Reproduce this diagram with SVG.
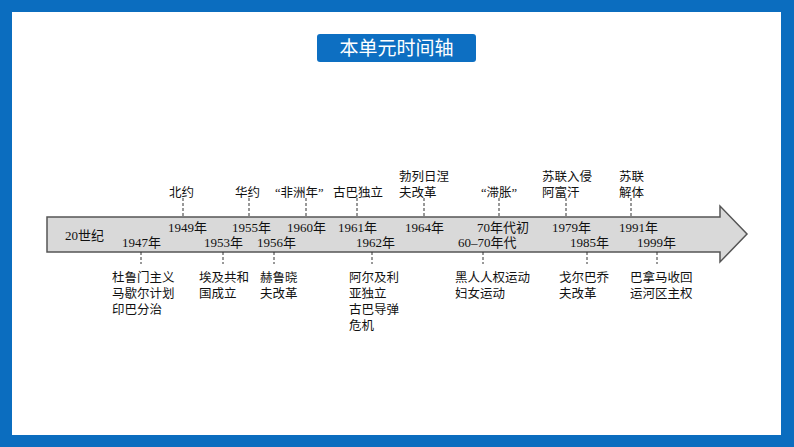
<svg xmlns="http://www.w3.org/2000/svg" width="794" height="447" viewBox="0 0 794 447">
<style>
.t{font-family:"Liberation Serif","Noto Sans CJK SC",serif;font-size:13px;fill:#111}
.c{font-family:"Liberation Serif","Noto Sans CJK SC",serif;font-size:12.5px;fill:#111}
.d{stroke:#333;stroke-width:1;stroke-dasharray:3 2;fill:none}
</style>
<rect x="0" y="0" width="794" height="447" fill="#0b6dbf"/>
<rect x="12" y="12" width="769" height="423" fill="#ffffff"/>
<g id="title">
<rect x="317" y="34" width="159" height="28" rx="3" fill="#0d6fc2"/>
<text x="396.5" y="55" text-anchor="middle" style="font-family:'Noto Sans CJK SC','Liberation Sans',sans-serif;font-size:19px;fill:#fff">本单元时间轴</text>
</g>
<g id="axis">
<path d="M47,217 H720 V206 L747,234 L720,262 V252 H47 Z" fill="#d9d9d9" stroke="#555" stroke-width="1.5"/>
<text class="t" x="65" y="239.5">20世纪</text>
</g>
<g id="connectors">
<line class="d" x1="183" y1="198" x2="183" y2="217"/>
<line class="d" x1="249" y1="198" x2="249" y2="217"/>
<line class="d" x1="306" y1="198" x2="306" y2="217"/>
<line class="d" x1="357" y1="198" x2="357" y2="217"/>
<line class="d" x1="424" y1="198" x2="424" y2="217"/>
<line class="d" x1="499" y1="198" x2="499" y2="217"/>
<line class="d" x1="566" y1="198" x2="566" y2="217"/>
<line class="d" x1="631" y1="198" x2="631" y2="217"/>
<line class="d" x1="141" y1="252" x2="141" y2="264"/>
<line class="d" x1="223" y1="252" x2="223" y2="264"/>
<line class="d" x1="274" y1="252" x2="274" y2="264"/>
<line class="d" x1="372" y1="252" x2="372" y2="264"/>
<line class="d" x1="483" y1="252" x2="483" y2="264"/>
<line class="d" x1="587" y1="252" x2="587" y2="264"/>
<line class="d" x1="657" y1="252" x2="657" y2="264"/>
</g>
<g id="e1949"><text class="c" x="169" y="196.5">北约</text><text class="t" x="168" y="231.5">1949年</text></g>
<g id="e1955"><text class="c" x="235" y="196.5">华约</text><text class="t" x="232" y="231.5">1955年</text></g>
<g id="e1960"><text class="c" x="275" y="196.5">“非洲年”</text><text class="t" x="287" y="231.5">1960年</text></g>
<g id="e1961"><text class="c" x="333" y="196.5">古巴独立</text><text class="t" x="338" y="231.5">1961年</text></g>
<g id="e1964"><text class="c" x="399" y="180.5">勃列日涅</text><text class="c" x="399" y="196.5">夫改革</text><text class="t" x="405" y="231.5">1964年</text></g>
<g id="e70s"><text class="c" x="481" y="196.5">“滞胀”</text><text class="t" x="477" y="231.5">70年代初</text></g>
<g id="e1979"><text class="c" x="542" y="180.5">苏联入侵</text><text class="c" x="542" y="196.5">阿富汗</text><text class="t" x="552" y="231.5">1979年</text></g>
<g id="e1991"><text class="c" x="619" y="180.5">苏联</text><text class="c" x="619" y="196.5">解体</text><text class="t" x="619" y="231.5">1991年</text></g>
<g id="e1947"><text class="t" x="122" y="246.5">1947年</text><text class="c" x="112" y="281.5">杜鲁门主义</text><text class="c" x="112" y="297.5">马歇尔计划</text><text class="c" x="112" y="313.5">印巴分治</text></g>
<g id="e1953"><text class="t" x="204" y="246.5">1953年</text><text class="c" x="199" y="281.5">埃及共和</text><text class="c" x="199" y="297.5">国成立</text></g>
<g id="e1956"><text class="t" x="257" y="246.5">1956年</text><text class="c" x="260" y="281.5">赫鲁晓</text><text class="c" x="260" y="297.5">夫改革</text></g>
<g id="e1962"><text class="t" x="356" y="246.5">1962年</text><text class="c" x="349" y="281.5">阿尔及利</text><text class="c" x="349" y="297.5">亚独立</text><text class="c" x="349" y="313.5">古巴导弹</text><text class="c" x="349" y="329.5">危机</text></g>
<g id="e6070"><text class="t" x="458" y="246.5">60–70年代</text><text class="c" x="455" y="281.5">黑人人权运动</text><text class="c" x="455" y="297.5">妇女运动</text></g>
<g id="e1985"><text class="t" x="570" y="246.5">1985年</text><text class="c" x="559" y="281.5">戈尔巴乔</text><text class="c" x="559" y="297.5">夫改革</text></g>
<g id="e1999"><text class="t" x="637" y="246.5">1999年</text><text class="c" x="630" y="281.5">巴拿马收回</text><text class="c" x="630" y="297.5">运河区主权</text></g>
</svg>
